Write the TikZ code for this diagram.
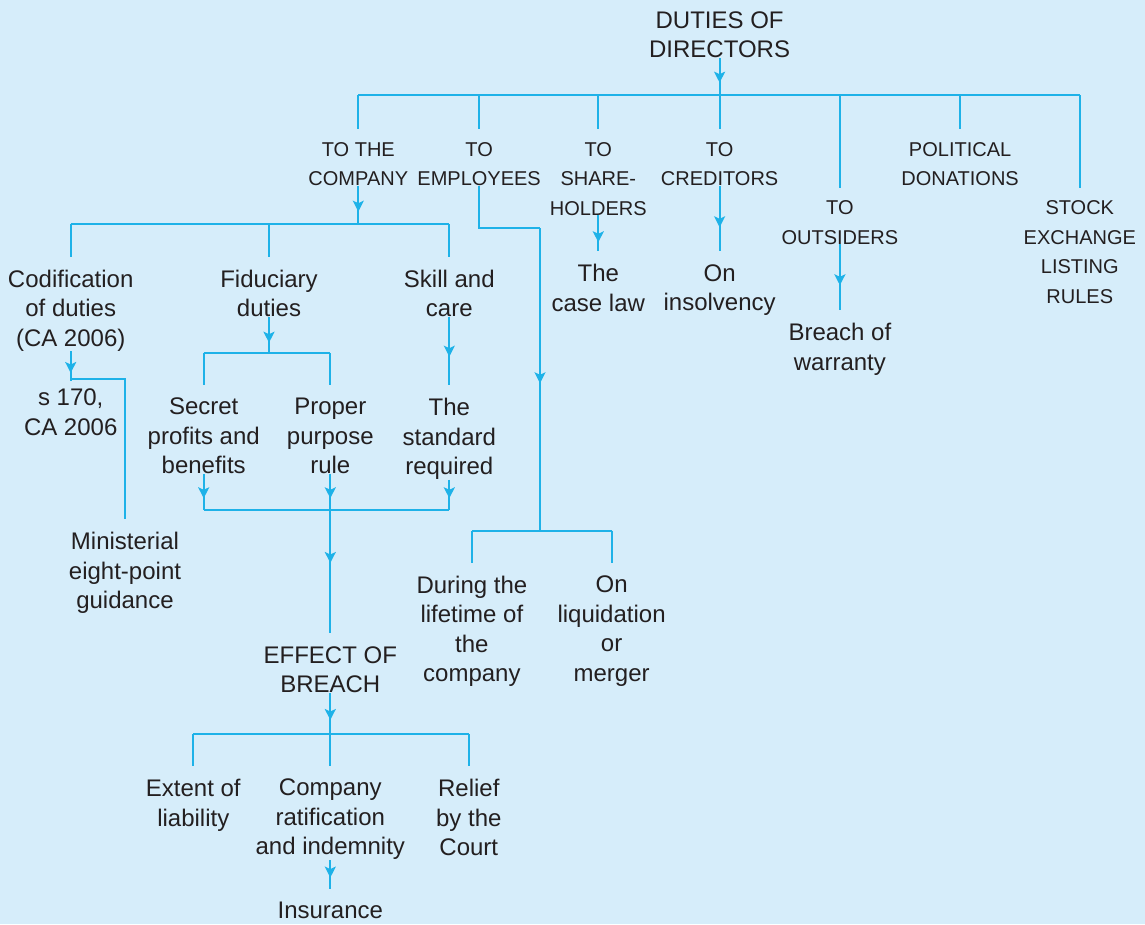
\documentclass[tikz,border=0pt]{standalone}
\usepackage{fontspec}
\setmainfont{Liberation Sans}
\usetikzlibrary{arrows.meta,decorations.markings,calc}
\definecolor{bgc}{HTML}{D6EDFA}
\definecolor{linec}{HTML}{1EB2E8}
\definecolor{textc}{HTML}{231F20}
\tikzset{
  ln/.style={draw=linec, color=linec, line width=2pt},
  arr/.style={ln, postaction={decorate, decoration={markings,
      mark=at position #1 with {\arrow{Stealth[length=11pt,width=11pt,inset=2.5pt]}}}}},
  txt/.style={text=textc, align=center, inner sep=0pt, outer sep=0pt, anchor=north,
      font=\fontsize{24}{29.5}\selectfont, yshift=-3.2pt},
  cat/.style={txt, font=\fontsize{20}{29.5}\selectfont, yshift=-3pt},
}
\begin{document}
\begin{tikzpicture}[x=1pt,y=-1pt]
\fill[bgc] (0,0) rectangle (1145,924);
\useasboundingbox (0,0) rectangle (1145,924);

% ---- nodes ----
\node[txt] (root) at (719.6,8.4) {DUTIES OF\\DIRECTORS};

\node[cat] (tocomp) at (358.3,136) {TO THE\\COMPANY};
\node[cat] (toemp)  at (479.1,136) {TO\\EMPLOYEES};
\node[cat] (toshare) at (598.3,136) {TO\\SHARE-\\HOLDERS};
\node[cat] (tocred) at (719.6,136) {TO\\CREDITORS};
\node[cat] (toout)  at (839.9,194.4) {TO\\OUTSIDERS};
\node[cat] (polit)  at (960.1,136) {POLITICAL\\DONATIONS};
\node[cat] (stock)  at (1079.8,194.4) {STOCK\\EXCHANGE\\LISTING\\RULES};

\node[txt] (codif) at (70.7,266.6) {Codification\\of duties\\(CA 2006)};
\node[txt] (fid)   at (269,266.6) {Fiduciary\\duties};
\node[txt] (skill) at (449.3,266.6) {Skill and\\care};
\node[txt] (s170)  at (70.7,386) {s 170,\\CA 2006};
\node[txt] (minist) at (125,529.3) {Ministerial\\eight-point\\guidance};
\node[txt] (secret) at (203.7,395) {Secret\\profits and\\benefits};
\node[txt] (proper) at (330.3,395) {Proper\\purpose\\rule};
\node[txt] (standard) at (449.3,395) {The\\standard\\required};

\node[txt] (effect) at (330.3,643.3) {EFFECT OF\\BREACH};
\node[txt] (extent) at (193.3,776) {Extent of\\liability};
\node[txt] (ratif)  at (330.3,776) {Company\\ratification\\and indemnity};
\node[txt] (relief) at (468.8,776) {Relief\\by the\\Court};
\node[txt] (insur)  at (330.3,898.6) {Insurance};

\node[txt] (caselaw) at (598.3,261.3) {The\\case law};
\node[txt] (insolv)  at (719.6,261.3) {On\\insolvency};
\node[txt] (breach)  at (839.9,320.3) {Breach of\\warranty};

\node[txt] (during) at (471.9,572.6) {During the\\lifetime of\\the\\company};
\node[txt] (liquid) at (611.6,572.6) {On\\liquidation\\or\\merger};

% ---- junction coordinates ----
\coordinate (rootbar) at (719.6,95);
\coordinate (compbar) at (358.3,224);
\coordinate (codjunc) at (70.7,381);
\coordinate (codbar)  at (70.7,379.3);
\coordinate (fidbar)  at (269,353.3);
\coordinate (brbar)   at (330.3,510);
\coordinate (effbar)  at (330.3,734);
\coordinate (empturn) at (540,228.3);
\coordinate (empbar)  at (540,530.7);

% ---- root level ----
\draw[arr=-12.3pt] (root.south) -- (rootbar);
\draw[ln] (rootbar -| tocomp) -- (rootbar -| stock);
\foreach \n in {tocomp,toemp,toshare,tocred,toout,polit,stock}
  \draw[ln] (rootbar -| \n) -- ([yshift=13pt]\n.north);

% ---- to the company ----
\draw[arr=-12.3pt] (tocomp.south) -- (compbar);
\draw[ln] (compbar -| codif) -- (compbar -| skill);
\foreach \n in {codif,fid,skill}
  \draw[ln] (compbar -| \n) -- ([yshift=13.2pt]\n.north);

\draw[arr=-8pt] (codif.south) -- (codjunc);
\draw[ln] (codbar) -| ([yshift=13.2pt]minist.north);

\draw[arr=-10.6pt] (fid.south) -- (fidbar);
\draw[ln] (fidbar -| secret) -- (fidbar -| proper);
\foreach \n in {secret,proper}
  \draw[ln] (fidbar -| \n) -- ([yshift=13.2pt]\n.north);

\draw[arr=-28.3pt] (skill.south) -- ([yshift=13.2pt]standard.north);

\foreach \n in {secret,proper,standard}
  \draw[arr=-11.7pt] (\n.south) -- (brbar -| \n);
\draw[ln] (brbar -| secret) -- (brbar -| standard);
\draw[arr=53pt] (brbar) -- ([yshift=13.2pt]effect.north);

% ---- effect of breach ----
\draw[arr=-14pt] (effect.south) -- (effbar);
\draw[ln] (effbar -| extent) -- (effbar -| relief);
\foreach \n in {extent,ratif,relief}
  \draw[ln] (effbar -| \n) -- ([yshift=13.2pt]\n.north);
\draw[arr=-11pt] (ratif.south) -- ([yshift=13.2pt]insur.north);

% ---- employees ----
\draw[ln] (toemp.south) |- (empturn);
\draw[arr=155pt] (empturn) -- (empbar);
\draw[ln] (empbar -| during) -- (empbar -| liquid);
\foreach \n in {during,liquid}
  \draw[ln] (empbar -| \n) -- ([yshift=13.2pt]\n.north);

% ---- other categories ----
\draw[arr=-9pt] (toshare.south) -- ([yshift=13.2pt]caselaw.north);
\draw[arr=-24pt] (tocred.south) -- ([yshift=13.2pt]insolv.north);
\draw[arr=-25pt] (toout.south) -- ([yshift=13.2pt]breach.north);
\end{tikzpicture}
\end{document}
